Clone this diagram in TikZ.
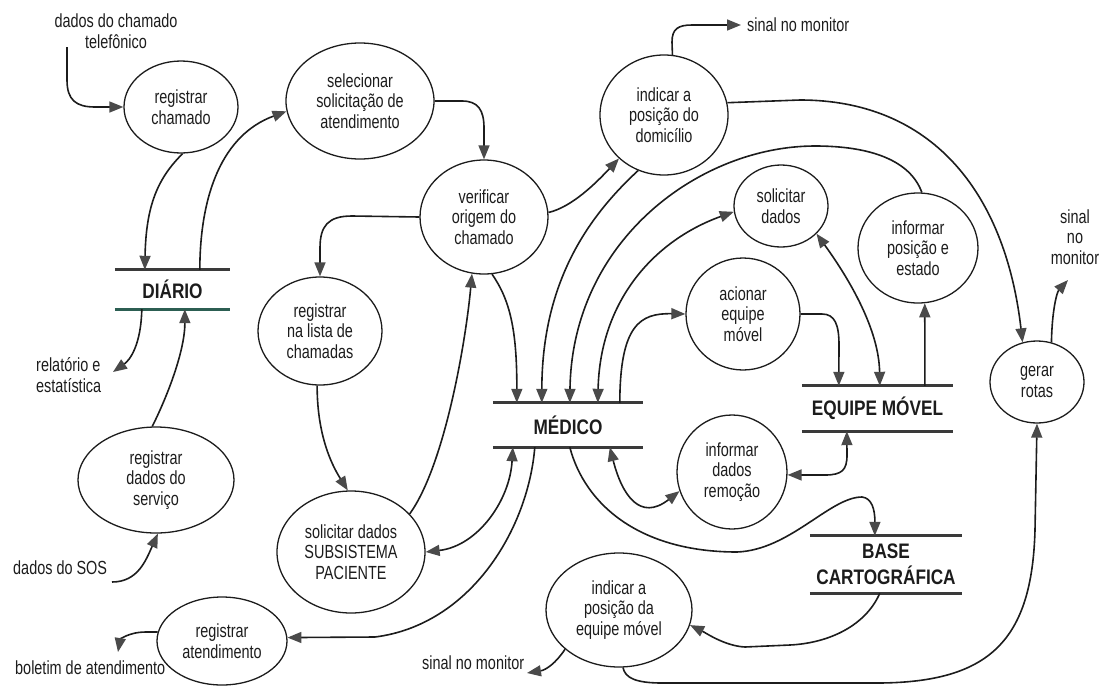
\documentclass[tikz,border=0pt]{standalone}
\usepackage{fontspec}
\setmainfont{Liberation Sans}[FakeStretch=0.76]
\newfontfamily\dfdboldfam{Liberation Sans}[FakeStretch=0.82]
\usetikzlibrary{arrows.meta,shapes.geometric}

\definecolor{ink}{HTML}{1C1C1C}
\definecolor{tipgray}{HTML}{4A4A4A}
\definecolor{storegray}{HTML}{3A3A3A}
\definecolor{diariogreen}{HTML}{2C5E52}

\newcommand{\dfdlbl}{\fontsize{19}{20.5}\selectfont}
\newcommand{\dfdstore}{\dfdboldfam\fontsize{21}{26}\selectfont\bfseries}

\begin{document}
\begin{tikzpicture}[x=1pt,y=-1pt,
  >={Triangle[length=14pt,width=11pt,color=tipgray]},
  proc/.style={ellipse, draw=ink, line width=1.3pt, inner sep=0pt, align=center, font=\dfdlbl, text=ink},
  store/.style={rectangle, inner sep=0pt, align=center, font=\dfdstore, text=ink},
  storeline/.style={draw=storegray, line width=3pt},
  flow/.style={draw=ink, line width=1.6pt, ->},
  biflow/.style={draw=ink, line width=1.6pt, <->},
  ext/.style={inner sep=0pt, align=center, font=\dfdlbl, text=ink}]

\useasboundingbox (0,0) rectangle (1109,686);

% processes
\node[proc, minimum width=114pt, minimum height=92pt]  (regch)     at (181,107)  {registrar\\chamado};
\node[proc, minimum width=148pt, minimum height=116pt] (selsol)    at (360,101)  {selecionar\\solicitação de\\atendimento};
\node[proc, minimum width=128pt, minimum height=114pt] (verif)     at (484,217)  {verificar\\origem do\\chamado};
\node[proc, minimum width=128pt, minimum height=120pt] (domic)     at (664,115)  {indicar a\\posição do\\domicílio};
\node[proc, minimum width=94pt,  minimum height=82pt]  (soldad)    at (781,206)  {solicitar\\dados};
\node[proc, minimum width=120pt, minimum height=110pt] (infpos)    at (918,248)  {informar\\posição e\\estado};
\node[proc, minimum width=114pt, minimum height=112pt] (acion)     at (743,314)  {acionar\\equipe\\móvel};
\node[proc, minimum width=110pt, minimum height=114pt] (infrem)    at (732,472)  {informar\\dados\\remoção};
\node[proc, minimum width=94pt,  minimum height=82pt]  (gerar)     at (1037,382) {gerar\\rotas};
\node[proc, minimum width=124pt, minimum height=108pt] (reglista)  at (320,331)  {registrar\\na lista de\\chamadas};
\node[proc, minimum width=148pt, minimum height=122pt] (solsub)    at (351,552)  {solicitar dados\\SUBSISTEMA\\PACIENTE};
\node[proc, minimum width=156pt, minimum height=106pt] (regserv)   at (156,480)  {registrar\\dados do\\serviço};
\node[proc, minimum width=130pt, minimum height=88pt]  (regatend)  at (222,641)  {registrar\\atendimento};
\node[proc, minimum width=146pt, minimum height=114pt] (posequipe) at (619,610)  {indicar a\\posição da\\equipe móvel};

% data stores
\node[store, minimum width=115pt, minimum height=39pt] (diario) at (172.5,289.5) {DIÁRIO};
\node[store, minimum width=150pt, minimum height=44pt] (med)    at (568,425)     {MÉDICO};
\node[store, minimum width=151pt, minimum height=45pt] (eqm)    at (877.5,408.5) {EQUIPE MÓVEL};
\node[store, minimum width=152pt, minimum height=57pt] (base)   at (886,564.5)   {BASE\\CARTOGRÁFICA};

\draw[storeline] (diario.north west) -- (diario.north east);
\draw[storeline, draw=diariogreen] (diario.south west) -- (diario.south east);
\draw[storeline] (med.north west) -- (med.north east);
\draw[storeline] (med.south west) -- (med.south east);
\draw[storeline] (eqm.north west) -- (eqm.north east);
\draw[storeline] (eqm.south west) -- (eqm.south east);
\draw[storeline] (base.north west) -- (base.north east);
\draw[storeline] (base.south west) -- (base.south east);

% external sources and sinks
\node[ext] (tel) at (116,31) {dados do chamado\\telefônico};
\node[ext, anchor=west] (sinal1) at (747,25) {sinal no monitor};
\node[ext] (sinal2) at (1075,237) {sinal\\no\\monitor};
\node[ext, anchor=west, align=left] (relat) at (36,375) {relatório e\\estatística};
\node[ext, anchor=west] (sos) at (13,568) {dados do SOS};
\node[ext, anchor=west] (boletim) at (15,668) {boletim de atendimento};
\node[ext, anchor=west] (sinal3) at (422,663) {sinal no monitor};

\coordinate (telout)   at (67,47);
\coordinate (sinal1in) at (741,25);
\coordinate (relatin)  at (113,372);
\coordinate (sosout)   at (112,582);
\coordinate (boletin)  at (118,652);
\coordinate (sinal2in) at (1068,280);
\coordinate (sinal3in) at (527,673);

% flows on the left side
\draw[flow] (telout) -- (67,80) .. controls (67,100) and (76,107) .. (95,107) -- (regch.west);
\draw[flow] (regch.-88) .. controls (158,178) and (146,205) .. ([xshift=30pt]diario.north west);
\draw[flow] ([xshift=85pt]diario.north west) .. controls (200,195) and (222,135) .. (selsol.188);
\draw[flow] (selsol.east) -- (462,101) .. controls (478,101) and (484,110) .. (484,128) -- (verif.north);
\draw[flow] (verif.west) -- (352,216) .. controls (328,216) and (320,226) .. (320,248) -- (reglista.north);
\draw[flow] (reglista.-93) .. controls (317,440) and (335,470) .. (solsub.93);
\draw[flow] (solsub.33) .. controls (445,465) and (466,340) .. (verif.-102);
\draw[flow] (sosout) .. controls (138,582) and (146,560) .. (regserv.-88);
\draw[flow] (regserv.94) .. controls (168,395) and (185,350) .. ([xshift=70pt]diario.south west);
\draw[flow] ([xshift=27pt]diario.south west) .. controls (141,345) and (130,360) .. (relatin);
\draw[flow] (regatend.172) -- (146,632) .. controls (128,632) and (120,640) .. (boletin);

% flows into MÉDICO from above
\draw[flow] (verif.-82) .. controls (510,300) and (517,330) .. ([xshift=24pt]med.north west);
\draw[flow] (verif.4) .. controls (572,207) and (596,183) .. (domic.-136);
\draw[flow] (domic.-115) .. controls (590,215) and (542,280) .. ([xshift=49pt]med.north west);
\draw[flow] (infpos.86) .. controls (910,160) and (870,146) .. (815,146)
  .. controls (700,146) and (572,240) .. ([xshift=77pt]med.north west);
\draw[biflow] ([xshift=105pt]med.north west) .. controls (600,300) and (655,240) .. (soldad.187);
\draw[flow] ([xshift=127pt]med.north west) .. controls (620,325) and (640,313) .. (acion.west);

% flows on the right side
\draw[flow] (domic.82) -- (672,42) .. controls (672,29) and (678,25) .. (692,25) -- (sinal1in);
\draw[flow] (domic.11) -- (800,100) .. controls (930,100) and (1005,190) .. (gerar.110);
\draw[flow] (acion.east) -- (822,314) .. controls (835,314) and (839,325) .. (839,345) -- ([xshift=37pt]eqm.north west);
\draw[biflow] (soldad.-38) .. controls (850,280) and (879,330) .. ([xshift=78pt]eqm.north west);
\draw[flow] ([xshift=123pt]eqm.north west) -- (infpos.-83);
\draw[biflow] ([xshift=45pt]eqm.south west) -- (847,455) .. controls (847,470) and (842,475) .. (825,475) -- (infrem.-3);
\draw[flow] (gerar.70) .. controls (1052,310) and (1057,292) .. (sinal2in);

% flows out of MÉDICO below
\draw[biflow] ([xshift=117pt]med.south west) .. controls (622,495) and (640,522) .. (infrem.-160);
\draw[flow] ([xshift=77pt]med.south west) .. controls (585,505) and (640,552) .. (737,552)
  .. controls (790,550) and (830,497) .. (862,497)
  .. controls (872,498) and (875,510) .. ([xshift=65pt]base.north west);
\draw[flow] ([xshift=42pt]med.south west) .. controls (528,530) and (470,625) .. (375,637) -- (regatend.3);
\draw[biflow] ([xshift=20pt]med.south west) .. controls (510,500) and (478,546) .. (solsub.east);

% cartographic base and vehicle position
\draw[flow] ([xshift=70pt]base.south west) .. controls (866,625) and (830,643) .. (790,645) -- (745,647)
  .. controls (725,646) and (706,633) .. (posequipe.-12);
\draw[flow] (posequipe.-86) .. controls (625,678) and (636,683) .. (662,683) -- (880,683)
  .. controls (990,682) and (1032,640) .. (1035,530) -- (gerar.south);
\draw[flow] (posequipe.-144) .. controls (556,663) and (546,670) .. (sinal3in);

\end{tikzpicture}
\end{document}
